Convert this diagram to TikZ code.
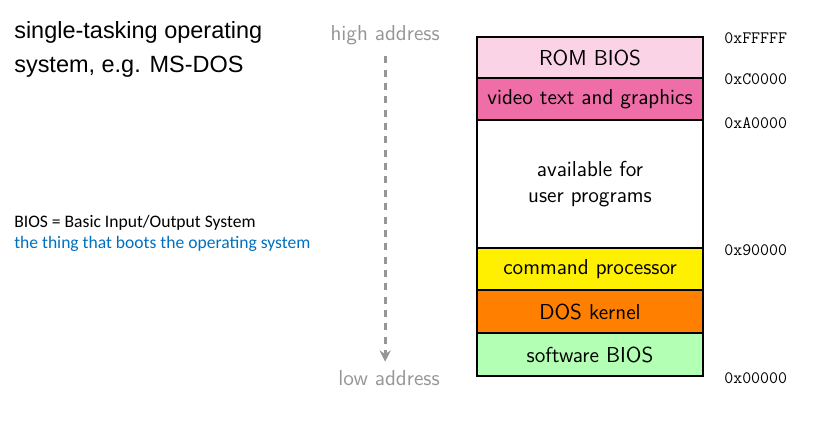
\documentclass[tikz,border=0pt]{standalone}
\usepackage{fontspec}
\usetikzlibrary{positioning}
\usetikzlibrary{arrows.meta}
\newfontfamily\titlefont{Liberation Sans}
\newfontfamily\notefont{Carlito}
\definecolor{rompink}{RGB}{250,212,230}
\definecolor{videopink}{RGB}{240,110,168}
\definecolor{cmdyellow}{RGB}{255,240,0}
\definecolor{dosorange}{RGB}{255,128,0}
\definecolor{biosgreen}{RGB}{179,255,179}
\definecolor{addrgray}{RGB}{150,150,150}
\definecolor{noteblue}{RGB}{0,112,192}
\tikzstyle{region} = [rectangle, draw, line width=1.4pt, outer sep=0pt,
    minimum width=5.65cm, minimum height=1.05cm, align=center,
    font=\fontsize{15.4}{18}\selectfont\sffamily]
\tikzstyle{addr} = [inner sep=0pt, font=\fontsize{12.4}{14}\selectfont\ttfamily]
\tikzstyle{dir} = [anchor=east, inner sep=0pt, text=addrgray, font=\fontsize{15.4}{18}\selectfont\sffamily]
\tikzstyle{line} = [draw, addrgray, line width=2pt, dash pattern=on 5pt off 4.5pt,
    -{Stealth[length=8pt, width=8pt]}]
\tikzstyle{note} = [anchor=base west, inner sep=0pt, font=\fontsize{12.5}{15}\selectfont\notefont]

\begin{document}
\begin{tikzpicture}[node distance = 0pt, auto]
    \useasboundingbox (0,0) rectangle (20.825,-10.65);
    % Place nodes
    \node [region, fill=rompink, anchor=north west, minimum height=1.025cm] (rom) at (11.925,-0.925) {ROM BIOS};
    \node [region, fill=videopink, below=of rom] (video) {video text and graphics};
    \node [region, fill=white, below=of video, minimum height=3.2cm] (user) {available for\\user programs};
    \node [region, fill=cmdyellow, below=of user] (cmd) {command processor};
    \node [region, fill=dosorange, below=of cmd, minimum height=1.075cm] (dos) {DOS kernel};
    \node [region, fill=biosgreen, below=of dos, minimum height=1.075cm] (bios) {software BIOS};
    % Addresses
    \node [addr, right=0.525cm of rom.north east, yshift=-0.03cm] (aF) {0xFFFFF};
    \node [addr, right=0.525cm of rom.south east, yshift=-0.03cm] (aC) {0xC0000};
    \node [addr, right=0.525cm of video.south east, yshift=-0.07cm] (aA) {0xA0000};
    \node [addr, right=0.525cm of user.south east, yshift=-0.05cm] (a9) {0x90000};
    \node [addr, right=0.525cm of bios.south east, yshift=-0.05cm] (a0) {0x00000};
    % Direction
    \node [dir] (hi) at (11.0,-0.875) {high address};
    \node [dir] (lo) at (11.0,-9.45) {low address};
    \path [line, shorten <=8pt, shorten >=6pt] (hi) -- (hi |- lo.north);
    % Side notes
    \node [anchor=north west, align=left, inner sep=0pt,
        font=\fontsize{16.7}{24.2}\selectfont\titlefont] (title) at (0.35,-0.525)
        {single-tasking operating\\system, e.g. MS-DOS};
    \node [note] (abbr) at (0.35,-5.675) {BIOS = Basic Input/Output System};
    \node [note, text=noteblue] (boot) at (0.35,-6.2) {the thing that boots the operating system};
\end{tikzpicture}
\end{document}
